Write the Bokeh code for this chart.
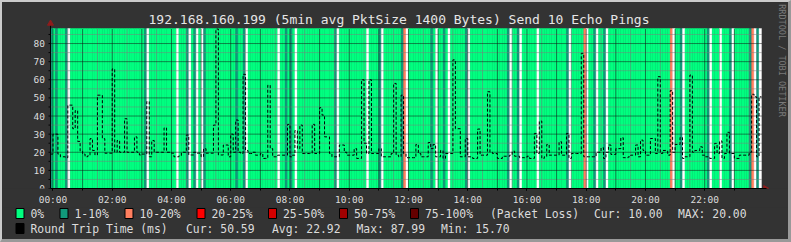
import math
from bokeh.plotting import figure
from bokeh.layouts import column
from bokeh.models import Range1d, FixedTicker
from bokeh.core.properties import value
from bokeh.embed import file_html
from bokeh.resources import INLINE

# ---------------- data ----------------
title_text = "192.168.160.199 (5min avg PktSize 1400 Bytes) Send 10 Echo Pings"
watermark = "RRDTOOL / TOBI OETIKER"

# round trip time (ms), one value per 5-minute sample, 12 samples per hour
rtt_ms = [
    19, 30, 30, 19, 17.5, 17.5, 17, 46, 46, 33, 43, 26,
    20.5, 19, 17.5, 18, 27.5, 21, 18.5, 51.5, 51.5, 27.5, 19.5, 19.5,
    19.5, 66, 20, 26.5, 20, 20, 38.5, 20, 20, 20, 28.5, 20,
    18.5, 19, 19, 48, 17.5, 26.5, 20, 20, 20, 20, 33.5, 20,
    20, 19.5, 17.5, 17.5, 18, 20, 20, 29.5, 18.5, 18.5, 20, 19.5,
    19.5, 17.5, 22, 19.5, 19.5, 19.5, 35, 87.99, 18.5, 18.5, 24, 24,
    17.5, 30, 20, 37.8, 20, 19.3, 63, 21, 19.3, 19.3, 20, 18.4,
    18.4, 19.3, 16.6, 16.6, 57, 22, 17.5, 17.5, 18.4, 18.4, 18.4, 18.4,
    35.4, 17.5, 18.4, 32, 22, 35, 19.3, 19.3, 19.3, 19.3, 35.4, 19.3,
    19.3, 44.6, 40.5, 28.5, 28.5, 19.3, 17.5, 17.5, 17.5, 24, 24, 20,
    18.4, 18.4, 18.4, 22, 16.6, 16.6, 60, 25, 19.3, 60, 19.3, 19.3,
    19.3, 22, 17.5, 17.5, 17.5, 17.5, 19.3, 58, 18.4, 17.5, 51.5, 19.3,
    17, 17, 17, 17, 24.3, 19.3, 17.5, 17.5, 17.5, 25.4, 22, 24.3,
    17.5, 17.5, 21, 16.6, 19.3, 19.3, 19.3, 71, 33, 33, 17.5, 17.5,
    27.6, 17.5, 17.5, 16.6, 16.6, 32.8, 18.4, 18.4, 18.4, 53.4, 20, 19.3,
    19.3, 16.6, 16.6, 17.8, 17.8, 17.8, 18.4, 20.6, 17.8, 17.8, 17, 17,
    17, 17.8, 16.6, 16.6, 30.4, 19.3, 37.2, 16.6, 17.5, 24.3, 18.4, 18.4,
    18.4, 18.4, 25.8, 18.4, 18.4, 30.4, 16.6, 19.3, 19.3, 19.3, 19.3, 74.6,
    17.5, 17.5, 17.5, 17.5, 17.5, 20, 20, 22.5, 16.6, 20, 24, 18.8,
    18.8, 22, 22, 28, 17, 17, 17.5, 18.4, 18.4, 24, 17.5, 26.7,
    21, 18.4, 18.4, 27.6, 27.6, 19.3, 61.7, 19.3, 21, 21, 18.4, 54,
    20, 24.3, 24.3, 28.2, 16.6, 17.5, 17.5, 62.6, 20, 21, 21, 23,
    18.4, 17.5, 17.5, 16.6, 16.6, 24.9, 19.3, 26.2, 16.6, 19.3, 31, 19.3,
    19.3, 16.6, 16.6, 18.4, 18.4, 18.4, 18.4, 20, 52, 50.6, 17.5, 50.59,
]

# sample indices by packet-loss class (all other samples: 0 %)
loss_1_10 = [0, 2, 6, 38, 55, 58, 62, 75, 78, 95, 97, 115, 133, 142,
             154, 159, 168, 185, 189, 209, 220, 224, 255, 266, 275, 283, 286]
loss_10_20 = [143, 216, 251, 284]
loss_unknown = [7, 39, 51, 56, 59, 61, 79, 92, 99, 116, 128, 134, 144, 156, 161,
                169, 186, 190, 197, 210, 217, 221, 225, 252, 256, 267, 271, 276,
                285, 287]

hour_ticks = [0, 2, 4, 6, 8, 10, 12, 14, 16, 18, 20, 22]
hour_labels = ["00:00", "02:00", "04:00", "06:00", "08:00", "10:00",
               "12:00", "14:00", "16:00", "18:00", "20:00", "22:00"]
y_ticks = [0, 10, 20, 30, 40, 50, 60, 70, 80]

loss_legend = ["0%", "1-10%", "10-20%", "20-25%", "25-50%", "50-75%", "75-100%"]
loss_colors = ["#00FF80", "#11997A", "#FF7F5F", "#FF0000", "#D40000", "#A00000", "#640000"]
loss_cur, loss_max = 10.00, 20.00
rtt_cur, rtt_avg, rtt_max, rtt_min = 50.59, 22.92, 87.99, 15.70

# ---------------- geometry / styling ----------------
BG = "#333333"
TXT = "#dcdcdc"
FONT = "DejaVu Sans Mono"
WHITE = "#FFFFFF"
ARROW = "#8f1c1c"

W = 786            # inner width (page minus border)
HM = 205           # main figure height
HL = 32            # legend figure height
FB = HM - 186      # bottom axis panel
PXH = 711 / 24.0   # pixels per hour
PXV = 160 / 88.3   # pixels per ms
y_top = 88.3
t0 = -1.0 / 12.0

# page pixel -> data helpers (page = figure + 2 px border; plot area starts at page x 50, y 188)
def tx(px):
    return t0 + (px - 50) / PXH

def ty(py):
    return (188 - py) / PXV

p = figure(width=W, height=HM, output_backend="svg", toolbar_location=None, title=None,
           x_range=Range1d(tx(2), tx(2 + W)), y_range=Range1d(ty(188), ty(2)),
           y_axis_type=None,
           min_border_left=0, min_border_right=0, min_border_top=0, min_border_bottom=FB,
           background_fill_color=BG, border_fill_color=BG, outline_line_color=None)
p.xgrid.visible = False

# loss stripes
n = len(rtt_ms)
lefts = [(i - 1) / 12.0 for i in range(n)]
rights = [i / 12.0 for i in range(n)]
colors = []
for i in range(n):
    if i in loss_unknown:
        colors.append(WHITE)
    elif i in loss_10_20:
        colors.append(loss_colors[2])
    elif i in loss_1_10:
        colors.append(loss_colors[1])
    else:
        colors.append(loss_colors[0])
p.quad(left=lefts, right=rights, bottom=0, top=y_top,
       fill_color=colors, line_color=colors, line_width=0.4)

# grid (dotted, on top of the stripes)
x_end = t0 + 24
minor_x = [h + 0.5 for h in range(24) if h + 0.5 < x_end]
major_x = list(range(0, 24))
minor_y = [v + 5 for v in y_ticks if v + 5 < y_top]
p.segment(x0=minor_x, y0=[0] * len(minor_x), x1=minor_x, y1=[y_top] * len(minor_x),
          line_color="#7c7c7c", line_dash="1 1", line_width=1)
p.segment(x0=[t0] * len(minor_y), y0=minor_y, x1=[x_end] * len(minor_y), y1=minor_y,
          line_color="#7c7c7c", line_dash="1 1", line_width=1)
p.segment(x0=major_x, y0=[0] * len(major_x), x1=major_x, y1=[y_top] * len(major_x),
          line_color="#111111", line_dash="1 1", line_width=1)
p.segment(x0=[t0] * len(y_ticks), y0=y_ticks, x1=[x_end] * len(y_ticks), y1=y_ticks,
          line_color="#111111", line_dash="1 1", line_width=1)

# RTT step line
xs = lefts + [rights[-1]]
ys = rtt_ms + [rtt_ms[-1]]
p.step(xs, ys, mode="after", line_color="black", line_dash="3 2", line_width=1)

# x axis (bokeh)
p.xaxis.ticker = FixedTicker(ticks=hour_ticks, minor_ticks=list(range(0, 24)))
p.xaxis.major_label_overrides = {t: lab for t, lab in zip(hour_ticks, hour_labels)}
p.xaxis.bounds = (t0, tx(766))
ax = p.xaxis[0]
ax.axis_line_color = "black"
ax.major_tick_line_color = "black"
ax.minor_tick_line_color = "black"
ax.major_tick_in = 0
ax.major_tick_out = 2
ax.minor_tick_in = 0
ax.minor_tick_out = 2
ax.major_label_text_font = FONT
ax.major_label_text_font_size = "9.5px"
ax.major_label_text_color = TXT
ax.major_label_standoff = 3

# y axis: line, ticks and labels
y_minor = [v + 5 for v in y_ticks]
p.segment(x0=[t0], y0=[0], x1=[t0], y1=[ty(22)], line_color="black", line_width=1)
p.segment(x0=[tx(48)] * len(y_ticks + y_minor), y0=y_ticks + y_minor,
          x1=[t0] * len(y_ticks + y_minor), y1=y_ticks + y_minor,
          line_color="black", line_width=1)
p.text(x=[tx(44.5)] * len(y_ticks), y=y_ticks, text=[str(v) for v in y_ticks],
       text_align="right", text_baseline="middle", text_font=value(FONT),
       text_font_size="9.5px", text_color=TXT)

# arrow heads at axis ends
p.scatter(x=[t0], y=[ty(23)], marker="triangle", size=6,
          fill_color=ARROW, line_color=ARROW)
p.scatter(x=[tx(765)], y=[0], marker="triangle", size=6, angle=-math.pi / 2,
          fill_color=ARROW, line_color=ARROW)

# title and watermark
p.text(x=[tx(398.5)], y=[ty(19)], text=[title_text], text_align="center",
       text_baseline="middle", text_font=value(FONT), text_font_size="13px",
       text_color="#e6e6e6")
p.text(x=[tx(781)], y=[ty(60)], text=[watermark], angle=-math.pi / 2,
       text_align="center", text_baseline="middle", text_font=value(FONT),
       text_font_size="8.5px", text_color="#7a7a7a")

# ---------------- legend strip ----------------
L_TOP = 2 + HM  # page y of legend figure top
q = figure(width=W, height=HL, output_backend="svg", toolbar_location=None, title=None,
           x_range=Range1d(2, 2 + W), y_range=Range1d(L_TOP + HL, L_TOP),
           x_axis_type=None, y_axis_type=None,
           min_border_left=0, min_border_right=0, min_border_top=0, min_border_bottom=0,
           background_fill_color=BG, border_fill_color=BG, outline_line_color=None)
q.xgrid.visible = False
q.ygrid.visible = False

row1, row2 = 213, 228
text_x = [30, 74, 139, 211, 282.5, 353.5, 424.5]
sw_left = [x - 14.5 for x in text_x] + [15.5]
sw_top = [row1 - 5] * len(text_x) + [row2 - 5]
sw_col = loss_colors + ["#000000"]
q.quad(left=sw_left, right=[x + 8 for x in sw_left], top=sw_top,
       bottom=[y + 10 for y in sw_top], fill_color=sw_col, line_color="black", line_width=1)

items = list(zip(text_x, [row1] * len(text_x), loss_legend))
items += [
    (489.5, row1, "(Packet Loss)"),
    (593.5, row1, f"Cur: {loss_cur:.2f}"),
    (677.5, row1, f"MAX: {loss_max:.2f}"),
    (30, row2, "Round Trip Time (ms)"),
    (185.5, row2, f"Cur: {rtt_cur:.2f}"),
    (271.5, row2, f"Avg: {rtt_avg:.2f}"),
    (356, row2, f"Max: {rtt_max:.2f}"),
    (440.5, row2, f"Min: {rtt_min:.2f}"),
]
q.text(x=[a for a, b, c in items], y=[b for a, b, c in items], text=[c for a, b, c in items],
       text_align="left", text_baseline="middle", text_font=value(FONT),
       text_font_size="11.4px", text_color=TXT)

layout = column(p, q, spacing=0,
                styles={"border-style": "solid", "border-width": "2px 3px 3px 2px",
                        "border-color": "#cbcbcb #999999 #999999 #cbcbcb",
                        "background-color": BG})

open("out.html", "w").write(file_html(layout, INLINE))
